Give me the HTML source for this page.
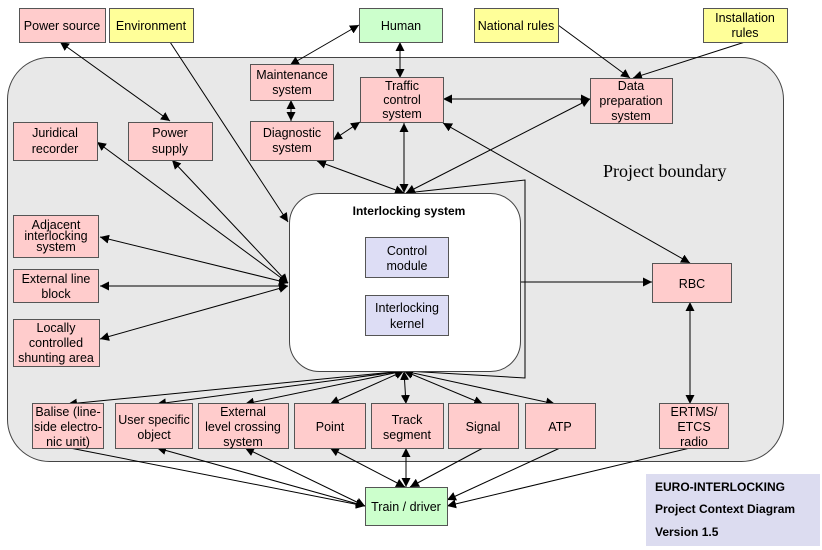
<!DOCTYPE html>
<html><head><meta charset="utf-8"><style>
body{margin:0;background:#fff}
svg{display:block;font-family:"Liberation Sans",sans-serif;font-size:12.5px}
.b{stroke:#555;stroke-width:1}
.p{fill:#ffcccc}.y{fill:#ffff99}.g{fill:#ccffcc}.v{fill:#ddddf5}
line,polyline{stroke:#000;stroke-width:1;fill:none}
</style></head><body>
<svg width="822" height="550" viewBox="0 0 822 550">
<defs><marker id="a" viewBox="0 0 10 10" refX="10" refY="5" markerWidth="9" markerHeight="9" markerUnits="userSpaceOnUse" orient="auto-start-reverse"><path d="M0,0L10,5L0,10z" fill="#000"/></marker></defs>
<rect x="7.5" y="57.5" width="776" height="404" rx="42" fill="#e8e8e8" stroke="#444"/>
<text x="603" y="177" font-family="Liberation Serif" font-size="18">Project boundary</text>
<g marker-end="url(#a)">
<line x1="60" y1="42" x2="170" y2="121" marker-start="url(#a)"/>
<line x1="170" y1="42" x2="288" y2="222"/>
<line x1="290" y1="65" x2="359" y2="25" marker-start="url(#a)"/>
<line x1="400" y1="42" x2="400" y2="78" marker-start="url(#a)"/>
<line x1="558" y1="25" x2="630" y2="78"/>
<line x1="745" y1="42" x2="633" y2="78"/>
<line x1="291" y1="100" x2="291" y2="121" marker-start="url(#a)"/>
<line x1="333" y1="140" x2="360" y2="122" marker-start="url(#a)"/>
<line x1="443" y1="99" x2="590" y2="99" marker-start="url(#a)"/>
<line x1="404" y1="123" x2="404" y2="193" marker-start="url(#a)"/>
<line x1="317" y1="161" x2="404" y2="193" marker-start="url(#a)"/>
<line x1="590" y1="99" x2="406" y2="193" marker-start="url(#a)"/>
<line x1="443" y1="123" x2="690" y2="263" marker-start="url(#a)"/>
<line x1="97" y1="142" x2="288" y2="283" marker-start="url(#a)"/>
<line x1="172" y1="160" x2="288" y2="283" marker-start="url(#a)"/>
<line x1="100" y1="237" x2="288" y2="283" marker-start="url(#a)"/>
<line x1="100" y1="286" x2="288" y2="286" marker-start="url(#a)"/>
<line x1="100" y1="339" x2="288" y2="286" marker-start="url(#a)"/>
<line x1="520" y1="282" x2="652" y2="282"/>
<line x1="690" y1="302" x2="690" y2="404" marker-start="url(#a)"/>
<line x1="404" y1="371" x2="68" y2="404" marker-start="url(#a)"/>
<line x1="404" y1="371" x2="157" y2="404" marker-start="url(#a)"/>
<line x1="404" y1="371" x2="245" y2="404" marker-start="url(#a)"/>
<line x1="404" y1="371" x2="330" y2="404" marker-start="url(#a)"/>
<line x1="404" y1="371" x2="406" y2="404" marker-start="url(#a)"/>
<line x1="404" y1="371" x2="483" y2="404" marker-start="url(#a)"/>
<line x1="404" y1="371" x2="555" y2="404" marker-start="url(#a)"/>
<line x1="70" y1="448" x2="365" y2="506"/>
<line x1="157" y1="448" x2="365" y2="506" marker-start="url(#a)"/>
<line x1="245" y1="448" x2="365" y2="506" marker-start="url(#a)"/>
<line x1="330" y1="448" x2="405" y2="487" marker-start="url(#a)"/>
<line x1="406" y1="448" x2="406" y2="487" marker-start="url(#a)"/>
<line x1="483" y1="448" x2="410" y2="487"/>
<line x1="560" y1="448" x2="447" y2="500"/>
<line x1="690" y1="448" x2="447" y2="506"/>
</g>
<polyline points="406,193 525,180 525,378 406,371"/>
<rect x="289.5" y="193.5" width="231" height="178" rx="30" fill="#fff" stroke="#444"/>
<text x="409" y="215" text-anchor="middle" font-weight="bold" font-size="12">Interlocking system</text>
<g class="b">
<rect x="19.5" y="8.5" width="86" height="34" class="p"/>
<rect x="109.5" y="8.5" width="84" height="34" class="y"/>
<rect x="359.5" y="8.5" width="83" height="34" class="g"/>
<rect x="474.5" y="8.5" width="84" height="34" class="y"/>
<rect x="703.5" y="8.5" width="84" height="34" class="y"/>
<rect x="250.5" y="64.5" width="83" height="36" class="p"/>
<rect x="360.5" y="77.5" width="83" height="45" class="p"/>
<rect x="590.5" y="78.5" width="82" height="45" class="p"/>
<rect x="13.5" y="122.5" width="84" height="38" class="p"/>
<rect x="128.5" y="122.5" width="84" height="38" class="p"/>
<rect x="250.5" y="121.5" width="83" height="39" class="p"/>
<rect x="13.5" y="215.5" width="85" height="42" class="p"/>
<rect x="13.5" y="269.5" width="85" height="33" class="p"/>
<rect x="13.5" y="319.5" width="86" height="47" class="p"/>
<rect x="365.5" y="237.5" width="83" height="40" class="v"/>
<rect x="365.5" y="295.5" width="83" height="40" class="v"/>
<rect x="652.5" y="263.5" width="79" height="39" class="p"/>
<rect x="32.5" y="403.5" width="71" height="45" class="p"/>
<rect x="115.5" y="403.5" width="77" height="45" class="p"/>
<rect x="198.5" y="403.5" width="90" height="45" class="p"/>
<rect x="294.5" y="403.5" width="71" height="45" class="p"/>
<rect x="371.5" y="403.5" width="72" height="45" class="p"/>
<rect x="448.5" y="403.5" width="70" height="45" class="p"/>
<rect x="525.5" y="403.5" width="70" height="45" class="p"/>
<rect x="659.5" y="403.5" width="69" height="45" class="p"/>
<rect x="365.5" y="487.5" width="82" height="38" class="g"/>
</g>
<rect x="646" y="474" width="174" height="72" fill="#dcdcf0"/>
<g font-weight="bold" font-size="12"><text x="655" y="491">EURO-INTERLOCKING</text><text x="655" y="513">Project Context Diagram</text><text x="655" y="536">Version 1.5</text></g>
<g text-anchor="middle">
<text x="62" y="30">Power source</text>
<text x="151" y="30">Environment</text>
<text x="401" y="30">Human</text>
<text x="516" y="30">National rules</text>
<text x="745" y="22">Installation</text><text x="745" y="37">rules</text>
<text x="292" y="79">Maintenance</text><text x="292" y="94">system</text>
<text x="402" y="90">Traffic</text><text x="402" y="104">control</text><text x="402" y="118">system</text>
<text x="631" y="90">Data</text><text x="631" y="105">preparation</text><text x="631" y="120">system</text>
<text x="55" y="137">Juridical</text><text x="55" y="153">recorder</text>
<text x="170" y="137">Power</text><text x="170" y="153">supply</text>
<text x="292" y="137">Diagnostic</text><text x="292" y="152">system</text>
<text x="56" y="229">Adjacent</text><text x="56" y="240">interlocking</text><text x="56" y="251">system</text>
<text x="56" y="283">External line</text><text x="56" y="298">block</text>
<text x="56" y="332">Locally</text><text x="56" y="347">controlled</text><text x="56" y="362">shunting area</text>
<text x="407" y="255">Control</text><text x="407" y="270">module</text>
<text x="407" y="312">Interlocking</text><text x="407" y="328">kernel</text>
<text x="692" y="288">RBC</text>
<text x="68" y="416">Balise (line-</text><text x="68" y="431">side electro-</text><text x="68" y="446">nic unit)</text>
<text x="154" y="424">User specific</text><text x="154" y="439">object</text>
<text x="243" y="416">External</text><text x="243" y="431">level crossing</text><text x="243" y="446">system</text>
<text x="330" y="431">Point</text>
<text x="407" y="424">Track</text><text x="407" y="439">segment</text>
<text x="483" y="431">Signal</text>
<text x="560" y="431">ATP</text>
<text x="694" y="416">ERTMS/</text><text x="694" y="431">ETCS</text><text x="694" y="446">radio</text>
<text x="406" y="511">Train / driver</text>
</g>
</svg>
</body></html>
